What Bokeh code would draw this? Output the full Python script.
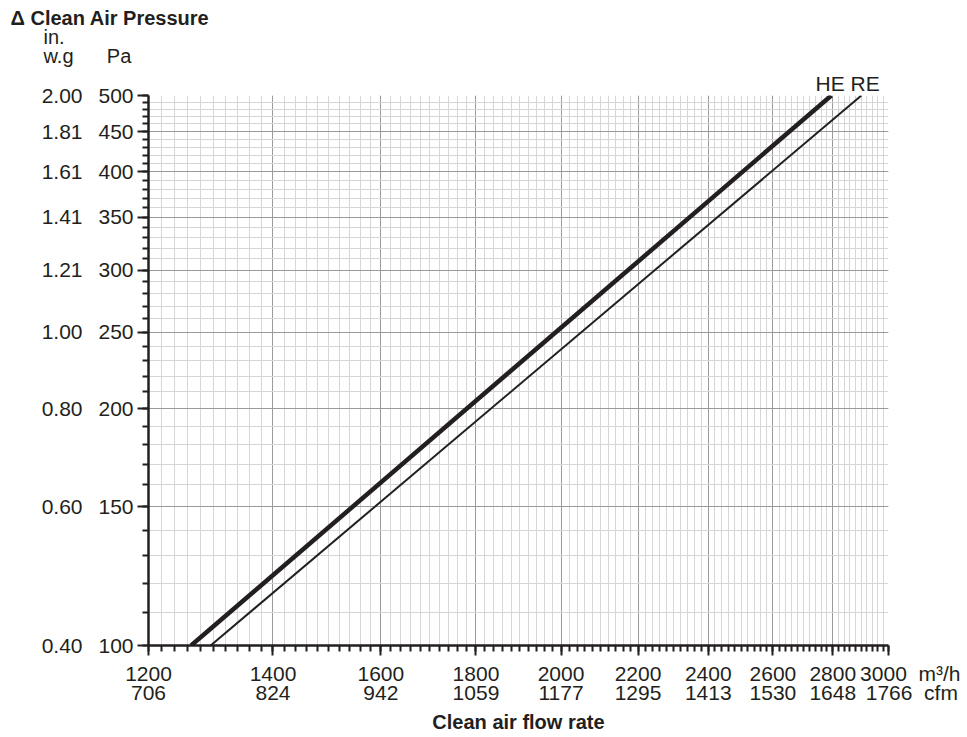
from bokeh.plotting import figure
from bokeh.models import (FixedTicker, NumeralTickFormatter, LogAxis, Title, Range1d)
from bokeh.embed import file_html
from bokeh.resources import INLINE

# ---- data ----
flow_ticks = [1200, 1400, 1600, 1800, 2000, 2200, 2400, 2600, 2800, 3000]   # m3/h
cfm_labels = ["706", "824", "942", "1059", "1177", "1295", "1413", "1530", "1648", "1766"]
pa_ticks = [100, 150, 200, 250, 300, 350, 400, 450, 500]                    # Pa
inwg_labels = ["0.40", "0.60", "0.80", "1.00", "1.21", "1.41", "1.61", "1.81", "2.00"]
flow_minor = list(range(1200, 3001, 20))
pa_minor = list(range(100, 501, 10))

pressure = [100, 500]          # Pa
he_flow = [1265, 2795]         # m3/h  (HE, thick line)
re_flow = [1296, 2901]         # m3/h  (RE, thin line)

FONT = "Liberation Sans"
INK = "#231f20"
NB = "\u00a0"

p = figure(width=960, height=735, x_axis_type="log", y_axis_type="log",
           x_range=Range1d(1200, 3000), y_range=Range1d(100, 500),
           output_backend="svg", toolbar_location=None,
           min_border_left=148, min_border_right=72,
           min_border_top=95, min_border_bottom=90)
p.outline_line_color = None
p.background_fill_color = "white"

# ---- primary axes ----
xa = p.xaxis[0]
xa.ticker = FixedTicker(ticks=flow_ticks, minor_ticks=flow_minor)
xa.formatter = NumeralTickFormatter(format="0")
xa.major_label_overrides = {flow_ticks[-1]: NB * 9 + str(flow_ticks[-1]) + NB * 2 + "m\u00b3/h"}
ya = p.yaxis[0]
ya.ticker = FixedTicker(ticks=pa_ticks, minor_ticks=pa_minor)
ya.formatter = NumeralTickFormatter(format="0")
for ax in (xa, ya):
    ax.axis_line_color = INK
    ax.axis_line_width = 2.5
    ax.major_tick_line_color = INK
    ax.major_tick_line_width = 2
    ax.minor_tick_line_color = INK
    ax.minor_tick_line_width = 2
    ax.major_tick_in = 0
    ax.minor_tick_in = 0
    ax.major_label_text_font = FONT
    ax.major_label_text_color = INK
xa.major_tick_out = 10
xa.minor_tick_out = 6
xa.major_label_text_font_size = "21px"
xa.major_label_standoff = 6
ya.major_tick_out = 11
ya.minor_tick_out = 6
ya.major_label_text_font_size = "21px"
ya.major_label_standoff = 4

# ---- secondary label axes (in. w.g and cfm) ----
inwg_over = dict(zip(pa_ticks, inwg_labels))
ya2 = LogAxis(ticker=FixedTicker(ticks=pa_ticks), major_label_overrides=inwg_over)
cfm_over = dict(zip(flow_ticks, cfm_labels))
cfm_over[flow_ticks[-1]] = NB * 8 + cfm_labels[-1] + NB * 2 + "cfm"
xa2 = LogAxis(ticker=FixedTicker(ticks=flow_ticks), major_label_overrides=cfm_over)
for ax in (ya2, xa2):
    ax.axis_line_color = None
    ax.major_tick_line_color = None
    ax.minor_tick_line_color = None
    ax.major_tick_out = 0
    ax.minor_tick_out = 0
    ax.major_tick_in = 0
    ax.minor_tick_in = 0
    ax.major_label_text_font = FONT
    ax.major_label_text_color = INK
    ax.major_label_text_font_size = "21px"
ya2.major_label_standoff = 13
xa2.major_label_standoff = -7
p.add_layout(ya2, "left")
p.add_layout(xa2, "below")

# ---- grid ----
for g in (p.xgrid[0], p.ygrid[0]):
    g.grid_line_color = "#9a9a9a"
    g.grid_line_width = 1
    g.minor_grid_line_color = "#d6d6d6"
    g.minor_grid_line_width = 1

# ---- curves ----
p.line(he_flow, pressure, line_color=INK, line_width=4.5)
p.line(re_flow, pressure, line_color=INK, line_width=2)

# ---- texts in the side panels ----
def ttl(text, offset, size="20px", bold=False, standoff=0, align="left", lh=1.0):
    return Title(text=text, align=align, offset=offset, standoff=standoff,
                 text_font=FONT, text_font_size=size, text_color=INK,
                 text_line_height=lh,
                 text_font_style="bold" if bold else "normal")

p.add_layout(ttl("HE RE", 667, size="21px", standoff=2), "above")
p.add_layout(ttl("in.\nw.g" + NB * 6 + "Pa", -105, standoff=2, lh=0.87), "above")
p.add_layout(ttl("\u0394 Clean Air Pressure", -138, bold=True, standoff=-10), "above")
p.add_layout(ttl("Clean air flow rate", -22, bold=True, align="center", standoff=4), "below")

open("out.html", "w").write(file_html(p, INLINE))
